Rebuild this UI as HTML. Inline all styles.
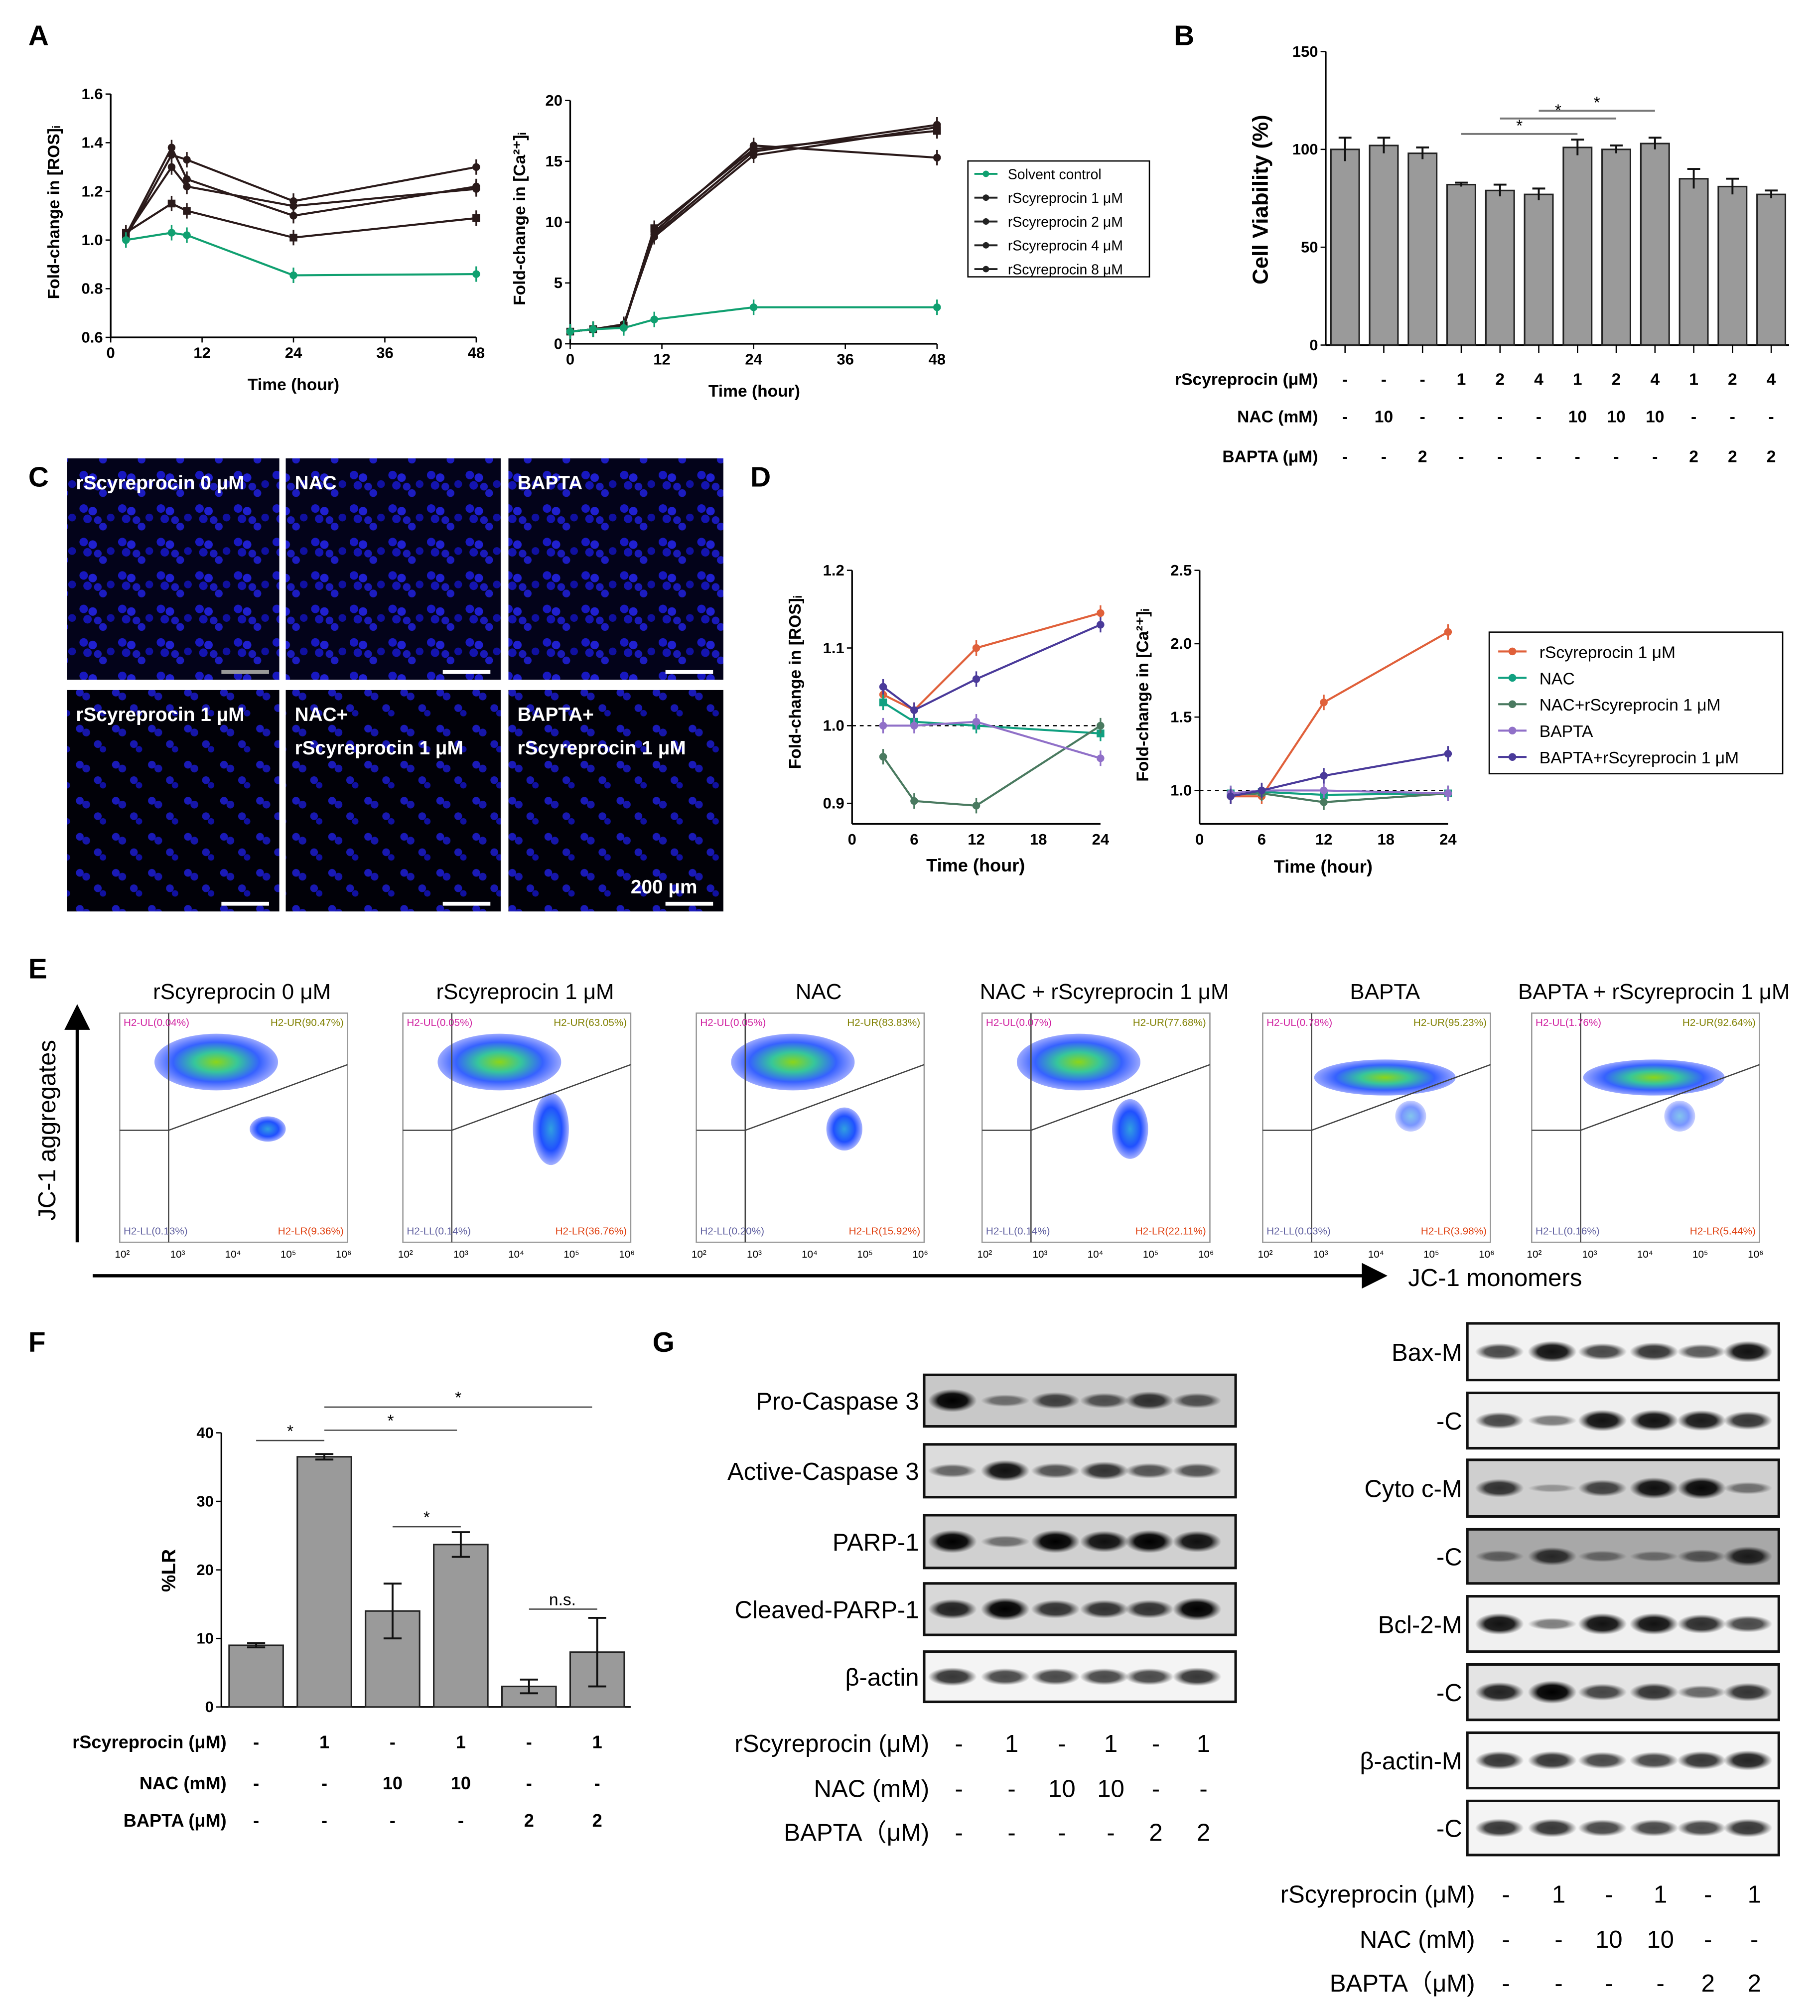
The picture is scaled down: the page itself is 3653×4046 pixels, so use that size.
<!DOCTYPE html>
<html><head><meta charset="utf-8">
<style>
html,body{margin:0;padding:0;background:#fff}
svg{display:block}
text{font-family:"Liberation Sans",Arial,sans-serif}
</style></head>
<body>
<svg id="fig" xmlns="http://www.w3.org/2000/svg" width="3653" height="4046" viewBox="0 0 1414 1566">
<defs>
<pattern id="cells" width="30" height="26" patternUnits="userSpaceOnUse">
<rect width="30" height="26" fill="#03031a"/>
<circle cx="5" cy="5" r="3.3" fill="#1818c0"/><circle cx="12" cy="7" r="3.3" fill="#2020d0"/>
<circle cx="8" cy="13" r="3.3" fill="#1414b0"/><circle cx="20" cy="19" r="3" fill="#1c1cc0"/>
<circle cx="26" cy="12" r="3" fill="#1010a0"/><circle cx="16" cy="14" r="3" fill="#1a1ab8"/>
</pattern>
<pattern id="cellsSparse" width="28" height="28" patternUnits="userSpaceOnUse">
<rect width="28" height="28" fill="#010108"/>
<circle cx="6" cy="6" r="3" fill="#1a1ab8"/><circle cx="11" cy="9" r="3" fill="#1616a8"/>
<circle cx="20" cy="18" r="3" fill="#1818b0"/><circle cx="24" cy="22" r="2.5" fill="#1010a0"/>
</pattern>
<radialGradient id="dens"><stop offset="0" stop-color="#7fd000"/><stop offset="0.35" stop-color="#20c090"/><stop offset="0.7" stop-color="#2050ff"/><stop offset="1" stop-color="#2040ff" stop-opacity="0.5"/></radialGradient>
<radialGradient id="dens2"><stop offset="0" stop-color="#30a0e0"/><stop offset="0.6" stop-color="#2050ff"/><stop offset="1" stop-color="#2040ff" stop-opacity="0.4"/></radialGradient>
<radialGradient id="band"><stop offset="0" stop-color="#000"/><stop offset="0.6" stop-color="#111"/><stop offset="1" stop-color="#333" stop-opacity="0"/></radialGradient>
<marker id="arr" markerWidth="8" markerHeight="8" refX="4" refY="4" orient="auto"><path d="M0,0 L8,4 L0,8 z" fill="#000"/></marker>
</defs>
<g id="root"></g>
</svg>
<script>
// ===== Panel A data =====
const aRosTimes=[2,8,10,24,48];
const aRosSolvent=[1.0,1.03,1.02,0.855,0.86];
const aRos1=[1.03,1.15,1.12,1.01,1.09];
const aRos2=[1.02,1.38,1.25,1.10,1.22];
const aRos4=[1.01,1.35,1.33,1.16,1.30];
const aRos8=[1.02,1.30,1.22,1.14,1.21];
const aCaTimes=[0,3,7,11,24,48];
const aCaSolvent=[1,1.2,1.3,2.0,3.0,3.0];
const aCa1=[1,1.2,1.5,9.5,16.0,17.5];
const aCa2=[1,1.2,1.6,8.8,15.5,17.8];
const aCa4=[1,1.2,1.4,9.2,16.3,15.3];
const aCa8=[1,1.2,1.5,9.0,15.8,18.0];
// ===== Panel B data =====
const bValues=[100,102,98,82,79,77,101,100,103,85,81,77];
const bErrors=[6,4,3,1,3,3,4,2,3,5,4,2];
const bRow1=['-','-','-','1','2','4','1','2','4','1','2','4'];
const bRow2=['-','10','-','-','-','-','10','10','10','-','-','-'];
const bRow3=['-','-','2','-','-','-','-','-','-','2','2','2'];
// ===== Panel D data =====
const dTimes=[3,6,12,24];
const dRosR=[1.04,1.02,1.10,1.145];
const dRosNac=[1.03,1.005,1.0,0.99];
const dRosNacR=[0.96,0.903,0.897,1.0];
const dRosB=[1.0,1.0,1.005,0.958];
const dRosBR=[1.05,1.02,1.06,1.13];
const dCaR=[0.96,0.96,1.6,2.08];
const dCaNac=[0.98,0.99,0.97,0.98];
const dCaNacR=[0.97,0.98,0.92,0.98];
const dCaB=[0.98,1.0,1.0,0.98];
const dCaBR=[0.96,1.0,1.1,1.25];
// ===== Panel F data =====
const fValues=[9,36.5,14,23.7,3,8];
const fErrors=[0.3,0.4,4,1.8,1,5];
const fRow1=['-','1','-','1','-','1'];
const fRow2=['-','-','10','10','-','-'];
const fRow3=['-','-','-','-','2','2'];
// ===== Panel E titles/quadrants =====
const eTitles=['rScyreprocin 0 μM','rScyreprocin 1 μM','NAC','NAC + rScyreprocin 1 μM','BAPTA','BAPTA + rScyreprocin 1 μM'];
const eUL=['0.04','0.05','0.05','0.07','0.78','1.76'];
const eUR=['90.47','63.05','83.83','77.68','95.23','92.64'];
const eLL=['0.13','0.14','0.20','0.14','0.03','0.16'];
const eLR=['9.36','36.76','15.92','22.11','3.98','5.44'];

const NS='http://www.w3.org/2000/svg';
const root=document.getElementById('root');
function mk(tag,a,parent){const e=document.createElementNS(NS,tag);for(const k in a)e.setAttribute(k,a[k]);(parent||root).appendChild(e);return e;}
function txt(x,y,s,size,opts){opts=opts||{};const e=mk('text',{x:x,y:y,'font-size':size,'text-anchor':opts.anchor||'start','font-weight':opts.bold?'bold':'normal',fill:opts.fill||'#000'});if(opts.rot)e.setAttribute('transform','rotate(-90 '+x+' '+y+')');e.textContent=s;return e;}
function lin(d0,d1,r0,r1){return v=>r0+(v-d0)*(r1-r0)/(d1-d0);}

function lineChart(xs,series,colors,markers,X,Y,nm){
  series.forEach((s,i)=>{
    const pts=xs.map((t,j)=>X(t)+','+Y(s[j])).join(' ');
    const pl=mk('polyline',{points:pts,fill:'none',stroke:colors[i],'stroke-width':1.6});
    
    
    xs.forEach((t,j)=>{
      const m=markers[i]==='s'?mk('rect',{x:X(t)-3,y:Y(s[j])-3,width:6,height:6,fill:colors[i]}):mk('circle',{cx:X(t),cy:Y(s[j]),r:3,fill:colors[i]});
      
      
      const eb=mk('line',{x1:X(t),x2:X(t),y1:Y(s[j])-6,y2:Y(s[j])+6,stroke:colors[i],'stroke-width':1.3});
      
      
    });
  });
}
function axes(x0,x1,y0,y1,xt,yt,X,Y,ylabel,fmt){
  mk('line',{x1:x0,x2:x0,y1:y0,y2:y1,stroke:'#000','stroke-width':1.3});
  mk('line',{x1:x0,x2:x1,y1:y0,y2:y0,stroke:'#000','stroke-width':1.3});
  xt.forEach(t=>{mk('line',{x1:X(t),x2:X(t),y1:y0,y2:y0+4,stroke:'#000'});txt(X(t),y0+16,String(t),12,{anchor:'middle',bold:true});});
  yt.forEach(t=>{mk('line',{x1:x0-4,x2:x0,y1:Y(t),y2:Y(t),stroke:'#000'});txt(x0-6,Y(t)+4,fmt?t.toFixed(fmt):String(t),12,{anchor:'end',bold:true});});
}

// ---- Labels
[['A',22,35],['B',912,35],['C',22,378],['D',583,378],['E',22,760],['F',22,1050],['G',507,1050]].forEach(p=>{const t=txt(p[1],p[2],p[0],22,{bold:true});});

// ---- A left
(function(){const X=lin(0,48,86,370),Y=lin(0.6,1.6,262,73);
axes(86,370,262,73,[0,12,24,36,48],[0.6,0.8,1.0,1.2,1.4,1.6],X,Y,'',1);
lineChart(aRosTimes,[aRos1,aRos2,aRos4,aRos8,aRosSolvent],['#2a1a1a','#2a1a1a','#2a1a1a','#2a1a1a','#10a070'],['s','c','c','c','c'],X,Y,'ros-a');
txt(228,303,'Time (hour)',13,{anchor:'middle',bold:true});
txt(46,165,'Fold-change in [ROS]ᵢ',13,{anchor:'middle',bold:true,rot:true});})();
// ---- A right
(function(){const X=lin(0,48,443,728),Y=lin(0,20,267,78);
axes(443,728,267,78,[0,12,24,36,48],[0,5,10,15,20],X,Y,'');
lineChart(aCaTimes,[aCa1,aCa2,aCa4,aCa8,aCaSolvent],['#2a1a1a','#2a1a1a','#2a1a1a','#2a1a1a','#10a070'],['s','c','c','c','c'],X,Y,'ca-a');
txt(586,308,'Time (hour)',13,{anchor:'middle',bold:true});
txt(408,170,'Fold-change in [Ca²⁺]ᵢ',13,{anchor:'middle',bold:true,rot:true});
const lg=mk('rect',{x:752,y:125,width:141,height:90,fill:'#fff',stroke:'#000'});


['Solvent control','rScyreprocin 1 μM','rScyreprocin 2 μM','rScyreprocin 4 μM','rScyreprocin 8 μM'].forEach((s,i)=>{const y=135+i*18.5;mk('line',{x1:757,x2:775,y1:y,y2:y,stroke:i?'#222':'#10a070','stroke-width':1.5});mk('circle',{cx:766,cy:y,r:2.5,fill:i?'#222':'#10a070'});txt(783,y+4,s,11);});})();

// ---- B
(function(){const Y=lin(0,150,268,40);const X=i=>1045+i*30.1;
axes(1030,1390,268,40,[],[0,50,100,150],X,Y,'');
bValues.forEach((v,i)=>{const r=mk('rect',{x:X(i)-11,y:Y(v),width:22,height:268-Y(v),fill:'#9a9a9a',stroke:'#222','stroke-width':1.2});


mk('line',{x1:X(i),x2:X(i),y1:Y(v+bErrors[i]),y2:Y(v-bErrors[i]),stroke:'#111','stroke-width':1.5});
mk('line',{x1:X(i)-5,x2:X(i)+5,y1:Y(v+bErrors[i]),y2:Y(v+bErrors[i]),stroke:'#111','stroke-width':1.5});
mk('line',{x1:X(i),x2:X(i),y1:268,y2:274,stroke:'#000'});
txt(X(i),299,bRow1[i],13,{anchor:'middle',bold:true});txt(X(i),328,bRow2[i],13,{anchor:'middle',bold:true});txt(X(i),359,bRow3[i],13,{anchor:'middle',bold:true});});
txt(985,155,'Cell Viability (%)',17,{anchor:'middle',bold:true,rot:true});
txt(1024,299,'rScyreprocin (μM)',13,{anchor:'end',bold:true});txt(1024,328,'NAC (mM)',13,{anchor:'end',bold:true});txt(1024,359,'BAPTA (μM)',13,{anchor:'end',bold:true});
[[3,6,104],[4,7,92],[5,8,86]].forEach(s=>{mk('line',{x1:X(s[0]),x2:X(s[1]),y1:s[2],y2:s[2],stroke:'#777','stroke-width':1.5});txt((X(s[0])+X(s[1]))/2,s[2]-2,'*',13,{anchor:'middle'});});})();

// ---- C images
(function(){const xs=[52,222,395],ys=[356,536];const lab=[['rScyreprocin 0 μM','NAC','BAPTA'],['rScyreprocin 1 μM','NAC+','BAPTA+']];
ys.forEach((y,r)=>xs.forEach((x,c)=>{const w=c===1?167:(c===0?165:167);const im=mk('rect',{x:x,y:y,width:w,height:172,fill:r?'url(#cellsSparse)':'url(#cells)'});


txt(x+7,y+24,lab[r][c],15,{bold:true,fill:'#fff'});if(r===1&&c>0)txt(x+7,y+50,'rScyreprocin 1 μM',15,{bold:true,fill:'#fff'});
mk('line',{x1:x+w-45,x2:x+w-8,y1:y+166,y2:y+166,stroke:r===0&&c===0?'#999':'#fff','stroke-width':3});}));
txt(490,694,'200 μm',15,{bold:true,fill:'#fff'});})();

// ---- D
(function(){const cols=['#e0603a','#10a080','#4a7a60','#9070c8','#4a3a9a'];const mks=['c','s','c','c','c'];
let X=lin(0,24,662,855),Y=lin(0.9,1.2,624,443);
mk('line',{x1:662,x2:662,y1:443,y2:640,stroke:'#000','stroke-width':1.3});mk('line',{x1:662,x2:855,y1:640,y2:640,stroke:'#000','stroke-width':1.3});
[0,6,12,18,24].forEach(t=>txt(X(t),656,String(t),12,{anchor:'middle',bold:true}));
[0.9,1.0,1.1,1.2].forEach(t=>{mk('line',{x1:658,x2:662,y1:Y(t),y2:Y(t),stroke:'#000'});txt(656,Y(t)+4,t.toFixed(1),12,{anchor:'end',bold:true});});
mk('line',{x1:662,x2:855,y1:Y(1),y2:Y(1),stroke:'#000','stroke-dasharray':'3,3'});
lineChart(dTimes,[dRosR,dRosNac,dRosNacR,dRosB,dRosBR],cols,mks,X,Y,'ros-d');
txt(758,677,'Time (hour)',14,{anchor:'middle',bold:true});txt(622,530,'Fold-change in [ROS]ᵢ',13,{anchor:'middle',bold:true,rot:true});
X=lin(0,24,932,1125);Y=lin(1.0,2.5,614,443);
mk('line',{x1:932,x2:932,y1:443,y2:640,stroke:'#000','stroke-width':1.3});mk('line',{x1:932,x2:1125,y1:640,y2:640,stroke:'#000','stroke-width':1.3});
[0,6,12,18,24].forEach(t=>txt(X(t),656,String(t),12,{anchor:'middle',bold:true}));
[1.0,1.5,2.0,2.5].forEach(t=>{mk('line',{x1:928,x2:932,y1:Y(t),y2:Y(t),stroke:'#000'});txt(926,Y(t)+4,t.toFixed(1),12,{anchor:'end',bold:true});});
mk('line',{x1:932,x2:1125,y1:Y(1),y2:Y(1),stroke:'#000','stroke-dasharray':'3,3'});
lineChart(dTimes,[dCaR,dCaNac,dCaNacR,dCaB,dCaBR],cols,mks,X,Y,'ca-d');
txt(1028,678,'Time (hour)',14,{anchor:'middle',bold:true});txt(892,540,'Fold-change in [Ca²⁺]ᵢ',13,{anchor:'middle',bold:true,rot:true});
const lg=mk('rect',{x:1157,y:491,width:228,height:110,fill:'#fff',stroke:'#000'});


['rScyreprocin 1 μM','NAC','NAC+rScyreprocin 1 μM','BAPTA','BAPTA+rScyreprocin 1 μM'].forEach((s,i)=>{const y=506+i*20.5;mk('line',{x1:1164,x2:1186,y1:y,y2:y,stroke:cols[i],'stroke-width':1.6});mk('circle',{cx:1175,cy:y,r:3,fill:cols[i]});txt(1196,y+5,s,13);});})();

// ---- E flow
(function(){const xs=[93,313,541,763,981,1190];
xs.forEach((x,i)=>{const w=177,y=787,h=178;
txt(x+95,776,eTitles[i],17,{anchor:'middle'});
const b=mk('rect',{x:x,y:y,width:w,height:h,fill:'#fff',stroke:'#999'});


const mono=parseFloat(eLR[i])/40;
mk('ellipse',{cx:x+(i>=4?95:75),cy:y+(i>=4?50:38),rx:i>=4?55:48,ry:i>=4?14:22,fill:'url(#dens)',opacity:0.9});
if(mono>0.15){mk('ellipse',{cx:x+115,cy:y+90,rx:14,ry:28*Math.min(1,mono*1.5),fill:'url(#dens2)'});}
else mk('ellipse',{cx:x+115,cy:y+80,rx:12,ry:12,fill:'url(#dens2)',opacity:0.6});
mk('line',{x1:x+38,x2:x+38,y1:y,y2:y+h,stroke:'#444'});mk('line',{x1:x,x2:x+38,y1:y+91,y2:y+91,stroke:'#444'});
mk('line',{x1:x+38,x2:x+w,y1:y+91,y2:y+40,stroke:'#444'});
txt(x+3,y+10,'H2-UL('+eUL[i]+'%)',8,{fill:'#d020a0'});txt(x+w-3,y+10,'H2-UR('+eUR[i]+'%)',8,{anchor:'end',fill:'#808000'});
txt(x+3,y+h-6,'H2-LL('+eLL[i]+'%)',8,{fill:'#6060a0'});txt(x+w-3,y+h-6,'H2-LR('+eLR[i]+'%)',8,{anchor:'end',fill:'#e04010'});
['10²','10³','10⁴','10⁵','10⁶'].forEach((t,j)=>txt(x+2+j*43,y+h+12,t,8,{anchor:'middle'}));});
mk('line',{x1:60,x2:60,y1:965,y2:790,stroke:'#000','stroke-width':2.5,'marker-end':'url(#arr)'});
mk('line',{x1:72,x2:1068,y1:991,y2:991,stroke:'#000','stroke-width':2.5,'marker-end':'url(#arr)'});
txt(43,878,'JC-1 aggregates',19,{anchor:'middle',rot:true});txt(1094,999,'JC-1 monomers',19);})();

// ---- F
(function(){const Y=lin(0,40,1326,1113);const X=i=>199+i*53;
axes(172,490,1326,1113,[],[0,10,20,30,40],X,Y,'');
fValues.forEach((v,i)=>{const r=mk('rect',{x:X(i)-21,y:Y(v),width:42,height:1326-Y(v),fill:'#9a9a9a',stroke:'#222','stroke-width':1.2});


mk('line',{x1:X(i),x2:X(i),y1:Y(v+fErrors[i]),y2:Y(v-fErrors[i]),stroke:'#111','stroke-width':1.5});
mk('line',{x1:X(i)-7,x2:X(i)+7,y1:Y(v+fErrors[i]),y2:Y(v+fErrors[i]),stroke:'#111','stroke-width':1.5});
mk('line',{x1:X(i)-7,x2:X(i)+7,y1:Y(v-fErrors[i]),y2:Y(v-fErrors[i]),stroke:'#111','stroke-width':1.5});
txt(X(i),1358,fRow1[i],14,{anchor:'middle',bold:true});txt(X(i),1390,fRow2[i],14,{anchor:'middle',bold:true});txt(X(i),1419,fRow3[i],14,{anchor:'middle',bold:true});});
txt(176,1358,'rScyreprocin (μM)',14,{anchor:'end',bold:true});txt(176,1390,'NAC (mM)',14,{anchor:'end',bold:true});txt(176,1419,'BAPTA (μM)',14,{anchor:'end',bold:true});
txt(136,1220,'%LR',15,{anchor:'middle',bold:true,rot:true});
[[199,252,1119],[252,355,1111],[252,460,1093],[305,358,1186]].forEach(s=>{mk('line',{x1:s[0],x2:s[1],y1:s[2],y2:s[2],stroke:'#444'});txt((s[0]+s[1])/2,s[2]-3,'*',13,{anchor:'middle'});});
mk('line',{x1:411,x2:464,y1:1250,y2:1250,stroke:'#444'});txt(437,1247,'n.s.',13,{anchor:'middle'});})();

// ---- G blots
function blot(x0,y,h,w,lanes,ints,name,bg){const r=mk('rect',{x:x0,y:y,width:w,height:h,fill:bg||'#ececec',stroke:'#111','stroke-width':2});


lanes.forEach((lx,i)=>{const k=ints[i];mk('ellipse',{cx:lx,cy:y+h/2,rx:19,ry:3+6*k,fill:'url(#band)',opacity:0.25+0.75*k});});}
(function(){const L=[740,781,820,858,893,930];
const rows=[['Pro-Caspase 3',1068,40,[1,0.3,0.6,0.5,0.7,0.5],'#c8c8c8'],['Active-Caspase 3',1122,41,[0.4,0.9,0.5,0.7,0.5,0.5],'#dcdcdc'],['PARP-1',1177,41,[1,0.3,1,0.9,1,0.9],'#d0d0d0'],['Cleaved-PARP-1',1230,40,[0.8,1,0.7,0.7,0.7,1],'#d8d8d8'],['β-actin',1283,39,[0.7,0.6,0.6,0.6,0.6,0.7],'#f4f4f4']];
rows.forEach(r=>{blot(718,r[1],r[2],242,L,r[3],'blot-'+r[0],r[4]);txt(714,r[1]+r[2]/2+7,r[0],19,{anchor:'end'});});
const R=[1165,1206,1245,1285,1322,1358];
const rows2=[['Bax-M',1028,44,[0.6,0.9,0.6,0.7,0.5,0.9],'#f2f2f2'],['-C',1082,43,[0.6,0.3,0.9,0.9,0.85,0.7],'#eeeeee'],['Cyto c-M',1134,44,[0.7,0.05,0.6,0.9,0.95,0.3],'#cfcfcf'],['-C',1188,42,[0.3,0.7,0.25,0.2,0.4,0.8],'#a8a8a8'],['Bcl-2-M',1240,43,[0.9,0.3,0.9,0.9,0.75,0.6],'#f0f0f0'],['-C',1293,43,[0.8,1,0.6,0.7,0.4,0.7],'#e4e4e4'],['β-actin-M',1346,43,[0.7,0.7,0.6,0.6,0.7,0.8],'#f4f4f4'],['-C',1399,42,[0.7,0.7,0.6,0.6,0.6,0.7],'#f4f4f4']];
rows2.forEach(r=>{blot(1140,r[1],r[2],242,R,r[3],'blot-right-'+r[0],r[4]);txt(1136,r[1]+r[2]/2+7,r[0],19,{anchor:'end'});});
const g1=['-','1','-','1','-','1'],g2=['-','-','10','10','-','-'],g3=['-','-','-','-','2','2'];
[[L,1361,1396,1430,722],[R,1478,1513,1547,1146]].forEach(s=>{s[0].forEach((x,i)=>{txt(x+5,s[1],g1[i],19,{anchor:'middle'});txt(x+5,s[2],g2[i],19,{anchor:'middle'});txt(x+5,s[3],g3[i],19,{anchor:'middle'});});
txt(s[4],s[1],'rScyreprocin (μM)',19,{anchor:'end'});txt(s[4],s[2],'NAC (mM)',19,{anchor:'end'});txt(s[4],s[3],'BAPTA（μM)',19,{anchor:'end'});});})();
</script>
</body></html>
